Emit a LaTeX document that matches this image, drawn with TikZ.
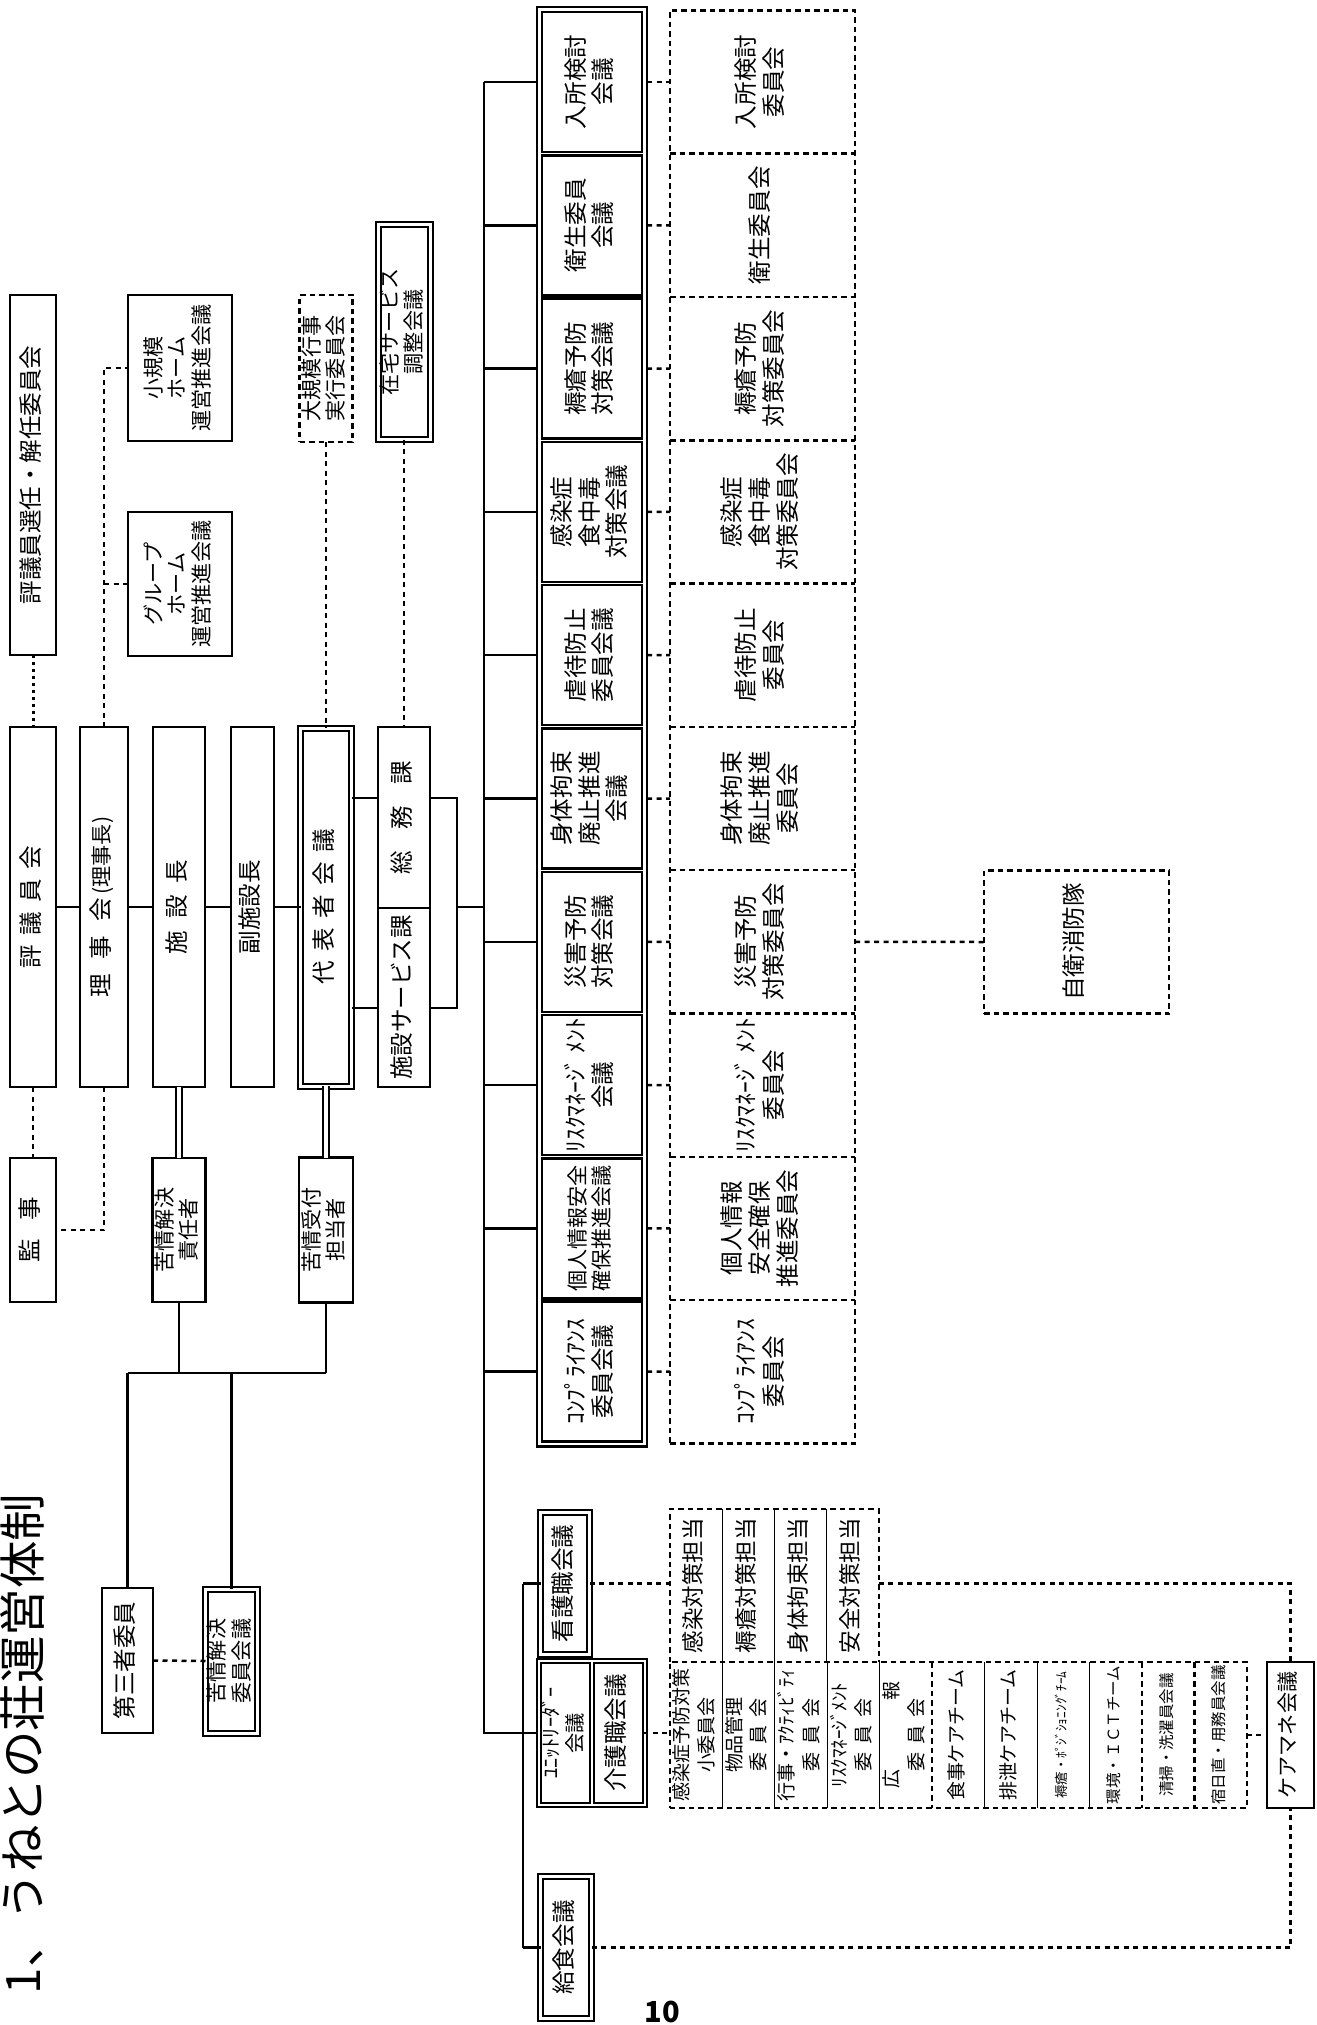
\documentclass[tikz,border=0pt]{standalone}
\usepackage{fontspec}
\setmainfont{Noto Sans CJK JP}
\usepackage{graphicx}
\usepackage{tikz}
\usetikzlibrary{chains,fit,positioning}

\newcommand{\vt}[1]{\rotatebox{90}{\begin{tabular}{@{}c@{}}#1\end{tabular}}}
\newcommand{\kk}{\hspace{0.4em}}
\newcommand{\fnta}{\fontsize{13.4pt}{14.8pt}\selectfont}
\newcommand{\fntb}{\fontsize{12pt}{13.1pt}\selectfont}
\newcommand{\fntc}{\fontsize{10.8pt}{14pt}\selectfont}
\newcommand{\fntd}{\fontsize{8.8pt}{10pt}\selectfont}
\newcommand{\fnte}{\fontsize{7.6pt}{9pt}\selectfont}
\newcommand{\fntt}{\fontsize{12.8pt}{14pt}\selectfont}
\newcommand{\fntu}{\fontsize{11.5pt}{12.8pt}\selectfont}

\begin{document}
\begin{tikzpicture}[x=0.2mm,y=-0.2mm]

        \tikzstyle{orgbox}=[draw,line width=0.5mm,inner sep=0pt,outer sep=0pt,font=\fnta]
        \tikzstyle{dblbox}=[orgbox,line width=0.4mm,double,double distance=0.6mm]
        \tikzstyle{dashbox}=[orgbox,dash pattern=on 1.1mm off 0.8mm]
        \tikzstyle{cellbox}=[inner sep=0pt,outer sep=0pt,font=\fnta]
        \tikzstyle{conn}=[line width=0.5mm]
        \tikzstyle{dconn}=[line width=0.5mm,dash pattern=on 1mm off 0.9mm]
        \tikzstyle{dotconn}=[line width=0.6mm,dash pattern=on 0.5mm off 0.9mm]
        \tikzstyle{dblconn}=[line width=0.4mm,double,double distance=0.8mm]
        \tikzstyle{dashline}=[line width=0.5mm,dash pattern=on 1.1mm off 0.8mm]
        \tikzstyle{thinsep}=[line width=0.2mm]
        \tikzset{sz/.style 2 args={minimum width=#1*0.2mm,minimum height=#2*0.2mm}}

        \useasboundingbox (0,0) rectangle (1317,2025);
        \fill[white] (0,0) rectangle (1317,2025);

        %% title and page number
        \node[inner sep=0pt,font=\fontsize{27pt}{29pt}\selectfont] (title) at (22,1744) {\rotatebox{90}{1、うねとの荘運営体制}};
        \node[inner sep=0pt,font=\fontsize{16.5pt}{18pt}\selectfont\bfseries] (pagenum) at (662,2012) {10};

        %% main row
        \node[orgbox,sz={46}{360}] (senin) at (33,475) {\vt{評議員選任・解任委員会}};
        \node[orgbox,sz={46}{360}] (hyogi) at (33,907) {\vt{評\kk 議\kk 員\kk 会}};
        \node[orgbox,sz={48}{360}] (riji) at (104,907) {\vt{理\hspace{0.6em}事\hspace{0.6em}会\,{\fntb(理事長)}}};
        \node[orgbox,sz={52}{360}] (shisetsu) at (179,907) {\vt{施\hspace{0.5em}設\hspace{0.5em}長}};
        \node[orgbox,sz={43}{360}] (fuku) at (252.5,907) {\vt{副施設長}};
        \node[dblbox,sz={51}{358}] (daihyo) at (326,907) {\vt{代\kk 表\kk 者\kk 会\kk 議}};
        \node[orgbox,sz={52}{181}] (somu) at (404,817.5) {\vt{総\hspace{0.9em}務\hspace{0.9em}課}};
        \node[orgbox,sz={52}{179}] (ssv) at (404,997.5) {\vt{施設サービス課}};

        %% upper boxes
        \node[orgbox,sz={104}{146},font=\fntb] (kibo) at (180,368) {\vt{小規模\\ホーム\\運営推進会議}};
        \node[orgbox,sz={104}{144},font=\fntb] (grp) at (180,584) {\vt{グループ\\ホーム\\運営推進会議}};
        \node[dashbox,sz={53}{147},font=\fntb] (gyoji) at (326,368.5) {\vt{大規模行事\\実行委員会}};
        \node[dblbox,sz={52}{215},font=\fntb] (zaitaku) at (404,332) {\vt{在宅サービス\\調整会議}};

        %% complaints
        \node[orgbox,sz={46}{144}] (kanji) at (33,1230) {\vt{監\hspace{0.8em}事}};
        \node[orgbox,sz={53}{144},font=\fntb] (ks) at (179,1230) {\vt{苦情解決\\責任者}};
        \node[orgbox,sz={54}{145},font=\fntb] (ku) at (326,1230) {\vt{苦情受付\\担当者}};
        \node[orgbox,sz={51}{145}] (daisan) at (127.5,1660.5) {\vt{第三者委員}};
        \node[dblbox,sz={52}{144},font=\fntb] (kiin) at (231.5,1661) {\vt{苦情解決\\委員会議}};

        %% Draw meeting column
        \begin{scope}[shift={(592,82)},start chain=rcol going below,node distance=0.66mm]
            \node [on chain=rcol,orgbox,sz={100}{140}] (r1) {\vt{入所検討\\会議}};
            \node [on chain=rcol,orgbox,sz={100}{140}] (r2) {\vt{衛生委員\\会議}};
            \node [on chain=rcol,orgbox,sz={100}{140}] (r3) {\vt{褥瘡予防\\対策会議}};
            \node [on chain=rcol,orgbox,sz={100}{140}] (r4) {\vt{感染症\\食中毒\\対策会議}};
            \node [on chain=rcol,orgbox,sz={100}{140}] (r5) {\vt{虐待防止\\委員会議}};
            \node [on chain=rcol,orgbox,sz={100}{140}] (r6) {\vt{身体拘束\\廃止推進\\会議}};
            \node [on chain=rcol,orgbox,sz={100}{140}] (r7) {\vt{災害予防\\対策会議}};
            \node [on chain=rcol,orgbox,sz={100}{140}] (r8) {\vt{ﾘｽｸﾏﾈｰｼﾞ ﾒﾝﾄ\\会議}};
            \node [on chain=rcol,orgbox,sz={100}{140},font=\fntb] (r9) {\vt{個人情報安全\\確保推進会議}};
            \node [on chain=rcol,orgbox,sz={100}{140}] (r10) {\vt{ｺﾝﾌﾟﾗｲｱﾝｽ\\委員会議}};
        \end{scope}
        \node[orgbox,fit=(r1)(r10),inner sep=1mm] (rframe) {};

        %% Draw committee column
        \begin{scope}[shift={(762.5,82)},start chain=ccol going below,node distance=0mm]
            \node [on chain=ccol,cellbox,sz={185}{143.3}] (c1) {\vt{入所検討\\委員会}};
            \node [on chain=ccol,cellbox,sz={185}{143.3}] (c2) {\vt{衛生委員会}};
            \node [on chain=ccol,cellbox,sz={185}{143.3}] (c3) {\vt{褥瘡予防\\対策委員会}};
            \node [on chain=ccol,cellbox,sz={185}{143.3}] (c4) {\vt{感染症\\食中毒\\対策委員会}};
            \node [on chain=ccol,cellbox,sz={185}{143.3}] (c5) {\vt{虐待防止\\委員会}};
            \node [on chain=ccol,cellbox,sz={185}{143.3}] (c6) {\vt{身体拘束\\廃止推進\\委員会}};
            \node [on chain=ccol,cellbox,sz={185}{143.3}] (c7) {\vt{災害予防\\対策委員会}};
            \node [on chain=ccol,cellbox,sz={185}{143.3}] (c8) {\vt{ﾘｽｸﾏﾈｰｼﾞ ﾒﾝﾄ\\委員会}};
            \node [on chain=ccol,cellbox,sz={185}{143.3}] (c9) {\vt{個人情報\\安全確保\\推進委員会}};
            \node [on chain=ccol,cellbox,sz={185}{143.3}] (c10) {\vt{ｺﾝﾌﾟﾗｲｱﾝｽ\\委員会}};
        \end{scope}
        \node[dashbox,fit=(c1)(c10)] (cframe) {};
        \draw[dashline] (c1.south west) -- (c1.south east);
        \draw[dashline] (c2.south west) -- (c2.south east);
        \draw[dashline] (c3.south west) -- (c3.south east);
        \draw[dashline] (c4.south west) -- (c4.south east);
        \draw[dashline] (c5.south west) -- (c5.south east);
        \draw[dashline] (c6.south west) -- (c6.south east);
        \draw[dashline] (c7.south west) -- (c7.south east);
        \draw[dashline] (c8.south west) -- (c8.south east);
        \draw[dashline] (c9.south west) -- (c9.south east);

        \node[dashbox,sz={185}{143}] (jiei) at (1076.5,942) {\vt{自衛消防隊}};

        %% staff meetings
        \node[dblbox,sz={49}{142}] (kango) at (565,1583.5) {\vt{看護職会議}};
        \node[orgbox,sz={49}{140},font=\fntu] (unit) at (565.5,1733) {\vt{ﾕﾆｯﾄﾘｰﾀﾞｰ\\会議}};
        \node[orgbox,sz={49}{140}] (kaigo) at (618.5,1733) {\vt{介護職会議}};
        \node[orgbox,fit=(unit)(kaigo),inner sep=0.8mm] (uframe) {};
        \node[dblbox,sz={51}{142}] (kyushoku) at (566,1947.5) {\vt{給食会議}};
        \node[orgbox,sz={47}{146},font=\fntb] (kea) at (1290.5,1735) {\vt{ケアマネ会議}};

        %% Draw persons in charge
        \begin{scope}[shift={(696.1,1585.5)},start chain=tcol going right,node distance=0mm]
            \node [on chain=tcol,cellbox,sz={52.25}{153},font=\fntt] (t1) {\vt{感染対策担当}};
            \node [on chain=tcol,cellbox,sz={52.25}{153},font=\fntt] (t2) {\vt{褥瘡対策担当}};
            \node [on chain=tcol,cellbox,sz={52.25}{153},font=\fntt] (t3) {\vt{身体拘束担当}};
            \node [on chain=tcol,cellbox,sz={52.25}{153},font=\fntt] (t4) {\vt{安全対策担当}};
        \end{scope}
        \node[cellbox,fit=(t1)(t4)] (tframe) {};
        \draw[dashline] (tframe.south west) -- (tframe.north west) -- (tframe.north east) -- (tframe.south east);
        \draw[thinsep] (t1.north east) -- (t1.south east);
        \draw[thinsep] (t2.north east) -- (t2.south east);
        \draw[thinsep] (t3.north east) -- (t3.south east);

        %% Draw small committees and teams
        \begin{scope}[shift={(696.2,1735)},start chain=lcol going right,node distance=0mm]
            \node [on chain=lcol,cellbox,sz={52.45}{146},font=\fntc] (l1) {\vt{感染症予防対策\\小委員会}};
            \node [on chain=lcol,cellbox,sz={52.45}{146},font=\fntc] (l2) {\vt{物品管理\\委\kk 員\kk 会}};
            \node [on chain=lcol,cellbox,sz={52.45}{146},font=\fntc] (l3) {\vt{行事・ｱｸﾃｨﾋﾞﾃｨ\\委\kk 員\kk 会}};
            \node [on chain=lcol,cellbox,sz={52.45}{146},font=\fntc] (l4) {\vt{ﾘｽｸﾏﾈｰｼﾞﾒﾝﾄ\\委\kk 員\kk 会}};
            \node [on chain=lcol,cellbox,sz={52.45}{146},font=\fntc] (l5) {\vt{広\hspace{3.6em}報\\委\kk 員\kk 会}};
            \node [on chain=lcol,cellbox,sz={52.45}{146},font=\fntc] (l6) {\vt{食事ケアチーム}};
            \node [on chain=lcol,cellbox,sz={52.45}{146},font=\fntc] (l7) {\vt{排泄ケアチーム}};
            \node [on chain=lcol,cellbox,sz={52.45}{146},font=\fnte] (l8) {\vt{褥瘡・ﾎﾟｼﾞｼｮﾆﾝｸﾞﾁｰﾑ}};
            \node [on chain=lcol,cellbox,sz={52.45}{146},font=\fntd] (l9) {\vt{環境・ＩＣＴチーム}};
            \node [on chain=lcol,cellbox,sz={52.45}{146},font=\fntd] (l10) {\vt{清掃・洗濯員会議}};
            \node [on chain=lcol,cellbox,sz={52.45}{146},font=\fntd] (l11) {\vt{宿日直・用務員会議}};
        \end{scope}
        \node[dashbox,fit=(l1)(l11)] (lframe) {};
        \draw[thinsep] (l1.north east) -- (l1.south east);
        \draw[thinsep] (l2.north east) -- (l2.south east);
        \draw[thinsep] (l3.north east) -- (l3.south east);
        \draw[thinsep] (l4.north east) -- (l4.south east);
        \draw[dashline] (l5.north east) -- (l5.south east);
        \draw[thinsep] (l6.north east) -- (l6.south east);
        \draw[thinsep] (l7.north east) -- (l7.south east);
        \draw[thinsep] (l8.north east) -- (l8.south east);
        \draw[dashline] (l9.north east) -- (l9.south east);
        \draw[dashline] (l10.north east) -- (l10.south east);

        %% connectors
        \coordinate (trtop) at (484,82);
        \coordinate (trbot) at (484,1733);
        \coordinate (bra) at (457,798);
        \coordinate (brb) at (457,1008);
        \coordinate (brk) at (457,907);
        \coordinate (kj) at (0,1373);
        \coordinate (kb) at (523,1733);

        \draw[conn] (hyogi.east) -- (riji.west);
        \draw[conn] (riji.east) -- (shisetsu.west);
        \draw[conn] (shisetsu.east) -- (fuku.west);
        \draw[conn] (fuku.east) -- (daihyo.west);
        \draw[conn] (daihyo.east |- bra) -- (somu.west |- bra);
        \draw[conn] (daihyo.east |- brb) -- (ssv.west |- brb);
        \draw[conn] (somu.east |- bra) -- (bra) -- (brb) -- (ssv.east |- brb);
        \draw[conn] (brk) -- (trtop |- brk);

        \draw[dotconn] (senin.south) -- (hyogi.north);
        \draw[dconn] (riji.north) -- (riji.north |- kibo.west) -- (kibo.west);
        \draw[dconn] (riji.north |- grp.west) -- (grp.west);
        \draw[dconn] (gyoji.south) -- (daihyo.north);
        \draw[dconn] (zaitaku.south) -- (somu.north);
        \draw[dconn] (hyogi.south) -- (kanji.north);
        \draw[dconn] (riji.south) -- (riji.south |- kanji.east) -- (kanji.east);

        \draw[dblconn] (shisetsu.south) -- (ks.north);
        \draw[dblconn] (daihyo.south) -- (ku.north);
        \draw[conn] (ks.south) -- (ks.south |- kj);
        \draw[conn] (ku.south) -- (ku.south |- kj);
        \draw[conn] (daisan.north |- kj) -- (ku.south |- kj);
        \draw[conn] (daisan.north |- kj) -- (daisan.north);
        \draw[conn] (kiin.north |- kj) -- (kiin.north);
        \draw[dconn] (daisan.east) -- (kiin.west);

        \draw[conn] (trtop) -- (trbot) -- (uframe.west);
        \draw[conn] (trtop |- r1.west) -- (rframe.west |- r1.west);
        \draw[conn] (trtop |- r2.west) -- (rframe.west |- r2.west);
        \draw[conn] (trtop |- r3.west) -- (rframe.west |- r3.west);
        \draw[conn] (trtop |- r4.west) -- (rframe.west |- r4.west);
        \draw[conn] (trtop |- r5.west) -- (rframe.west |- r5.west);
        \draw[conn] (trtop |- r6.west) -- (rframe.west |- r6.west);
        \draw[conn] (trtop |- r7.west) -- (rframe.west |- r7.west);
        \draw[conn] (trtop |- r8.west) -- (rframe.west |- r8.west);
        \draw[conn] (trtop |- r9.west) -- (rframe.west |- r9.west);
        \draw[conn] (trtop |- r10.west) -- (rframe.west |- r10.west);

        \draw[dconn] (rframe.east |- r1.east) -- (c1.west);
        \draw[dconn] (rframe.east |- r2.east) -- (c2.west);
        \draw[dconn] (rframe.east |- r3.east) -- (c3.west);
        \draw[dconn] (rframe.east |- r4.east) -- (c4.west);
        \draw[dconn] (rframe.east |- r5.east) -- (c5.west);
        \draw[dconn] (rframe.east |- r6.east) -- (c6.west);
        \draw[dconn] (rframe.east |- r7.east) -- (c7.west);
        \draw[dconn] (rframe.east |- r8.east) -- (c8.west);
        \draw[dconn] (rframe.east |- r9.east) -- (c9.west);
        \draw[dconn] (rframe.east |- r10.east) -- (c10.west);
        \draw[dconn] (c7.east) -- (jiei.west);

        \draw[conn] (kango.west -| kb) -- (kyushoku.west -| kb);
        \draw[conn] (kango.west -| kb) -- (kango.west);
        \draw[conn] (kyushoku.west -| kb) -- (kyushoku.west);
        \draw[dconn] (kango.east) -- (kango.east -| tframe.west);
        \draw[dconn] (tframe.east |- kango.east) -- (kango.east -| kea.north) -- (kea.north);
        \draw[dconn] (kaigo.east) -- (kaigo.east -| lframe.west);
        \draw[dconn] (l11.east) -- (kea.west);
        \draw[dconn] (kyushoku.east) -- (kyushoku.east -| kea.south) -- (kea.south);

    \end{tikzpicture}
\end{document}
